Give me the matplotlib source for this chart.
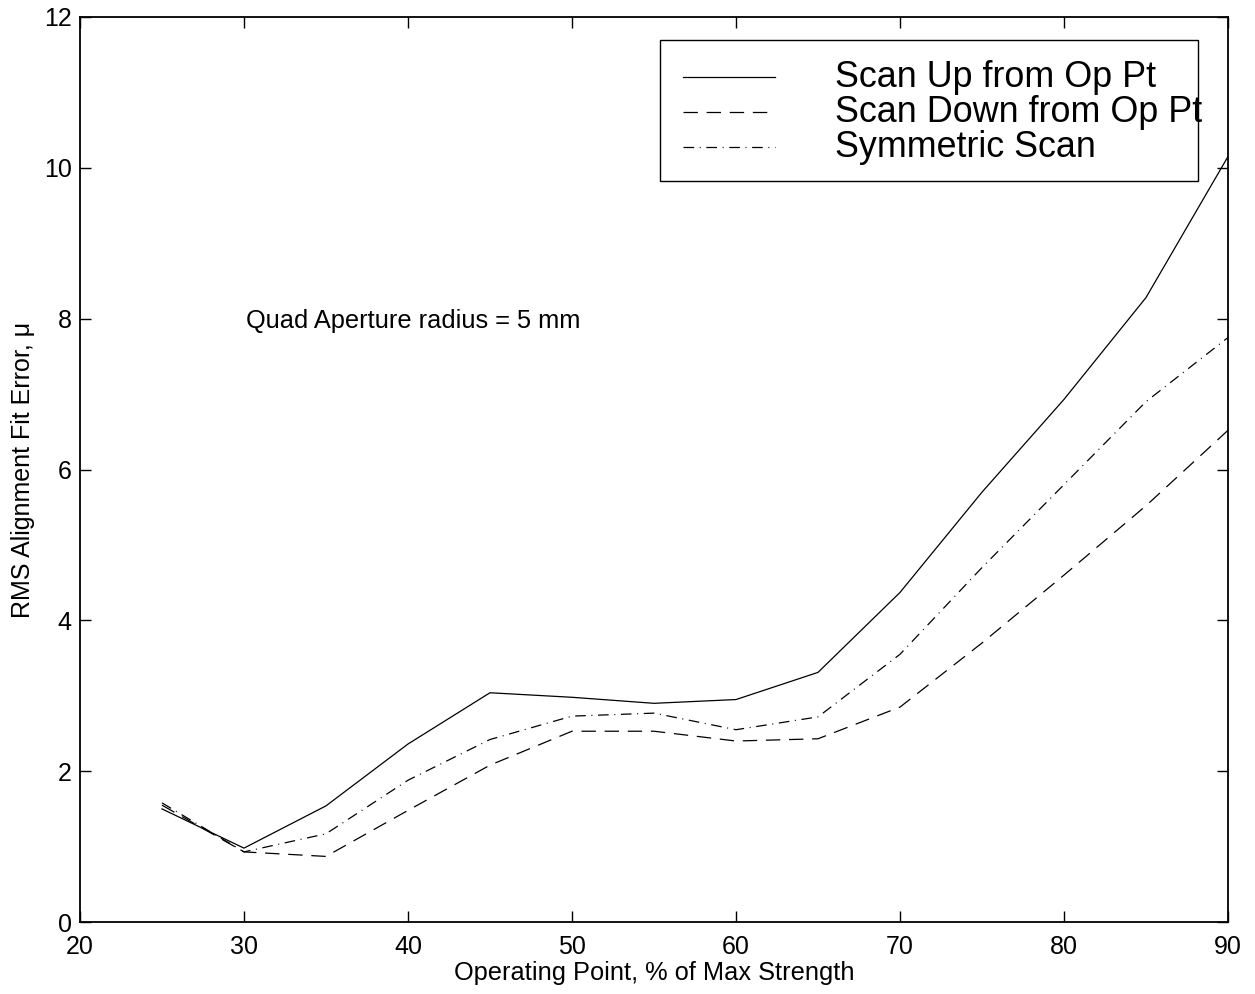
import numpy as np
import matplotlib
matplotlib.use("Agg")
import matplotlib.pyplot as plt
from matplotlib.patches import Rectangle
from matplotlib.lines import Line2D

plt.rcParams['font.family'] = ['Liberation Sans', 'DejaVu Sans']

# operating point, % of max strength
op_pt = [25, 30, 35, 40, 45, 50, 55, 60, 65, 70, 75, 80, 85, 90]
# rms fit error for the three scan types
scan_up = [1.50, 0.98, 1.54, 2.36, 3.04, 2.98, 2.90, 2.95, 3.31, 4.37, 5.70, 6.93, 8.28, 10.15]
scan_down = [1.55, 0.93, 0.87, 1.48, 2.08, 2.53, 2.53, 2.40, 2.43, 2.85, 3.70, 4.60, 5.52, 6.52]
symmetric = [1.58, 0.93, 1.17, 1.88, 2.42, 2.73, 2.77, 2.55, 2.72, 3.55, 4.70, 5.80, 6.90, 7.75]
labels = ['Scan Up from Op Pt', 'Scan Down from Op Pt', 'Symmetric Scan']

fig = plt.figure(figsize=(12.55, 9.94), dpi=100)
ax = fig.add_axes([0.0637, 0.0724, 0.9148, 0.9105])

lw = 0.9
styles = ['-', (0, (11.5, 7.0)), (0, (8.5, 4.5, 0.8, 4.5))]
for ys, ls, lab in zip([scan_up, scan_down, symmetric], styles, labels):
    ax.plot(op_pt, ys, color='black', lw=lw, linestyle=ls, label=lab)

ax.set_xlim(20, 90)
ax.set_ylim(0, 12)
ax.set_xticks(np.arange(20, 91, 10))
ax.set_yticks(np.arange(0, 13, 2))
ax.tick_params(direction='in', length=8, width=1, labelsize=18, top=True, right=True)
ax.tick_params(axis='x', pad=9)
ax.tick_params(axis='y', pad=6)
for s in ax.spines.values():
    s.set_linewidth(1.3)

ax.set_xlabel('Operating Point, % of Max Strength', fontsize=18.3, labelpad=2)
ax.set_ylabel('RMS Alignment Fit Error, \u03bc', fontsize=18, labelpad=6)

ax.text(30.1, 7.97, 'Quad Aperture radius = 5 mm', fontsize=18.3, va='center', ha='left')

# matlab style legend box, text runs past the right edge like the original
ax.add_patch(Rectangle((0.505, 0.8188), 0.469, 0.1558, transform=ax.transAxes,
                       facecolor='white', edgecolor='black', lw=1.0, zorder=5))
row_y = [0.9335, 0.8948, 0.8562]
for yy, ls, lab in zip(row_y, styles, labels):
    ax.add_line(Line2D([0.5253, 0.6054], [yy, yy], transform=ax.transAxes,
                       color='black', lw=lw, linestyle=ls, zorder=6))
    ax.text(0.6577, yy, lab, transform=ax.transAxes, fontsize=25.8,
            va='center', ha='left', zorder=6)

fig.savefig('out.png', dpi=100)
